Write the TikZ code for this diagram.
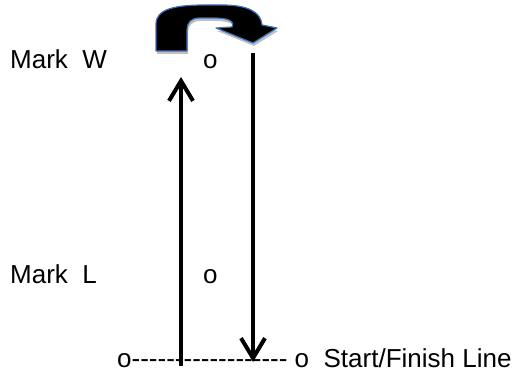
\documentclass[tikz,border=0pt]{standalone}
\usepackage{fontspec}
\setmainfont{Liberation Sans}
\usetikzlibrary{arrows.meta,shadows}
\definecolor{turnblue}{HTML}{3F6FB5}
\begin{document}
\begin{tikzpicture}[x=1pt,y=-1pt,
  lbl/.style={inner sep=0pt,anchor=base west,font=\fontsize{26}{30}\selectfont},
  track/.style={line width=4pt,-{Straight Barb[length=20pt,width=24pt,line width=4pt]}},
  turn/.style={fill=black,draw=turnblue,line width=1.2pt,line join=round,
    drop shadow={shadow xshift=1pt,shadow yshift=-3pt,opacity=0.25,fill=black}}]
\useasboundingbox (0,0) rectangle (523,377);
% labels
\node[lbl] (markW) at (10,69) {Mark\ \ W};
\node[lbl] (oW) at (203,69) {o};
\node[lbl] (markL) at (10,284) {Mark\ \ L};
\node[lbl] (oL) at (203,284) {o};
\node[lbl] (line) at (117,367) {o-{}-{}-{}-{}-{}-{}-{}-{}-{}-{}-{}-{}-{}-{}-{}-{}-{}-{}\ o\ \ Start/Finish Line};
% track coordinates
\coordinate (upS) at (181,366);
\coordinate (upE) at (181,77);
\coordinate (dnS) at (253,53);
\coordinate (dnE) at (253,362);
\draw[track] (upS) -- (upE);
\draw[track] (dnS) -- (dnE);
% turn arrow
\path[turn] (156,51) -- (156,24)
  .. controls (156,9) and (175,5) .. (205,5) -- (222,5)
  .. controls (248,5) and (261,12) .. (262,25)
  -- (277,28) -- (253,43) -- (216,28) -- (232,27)
  .. controls (235,21) and (228,18) .. (214,18) -- (200,18)
  .. controls (191,18) and (187,22) .. (187,31) -- (187,51) -- cycle;
\end{tikzpicture}
\end{document}
